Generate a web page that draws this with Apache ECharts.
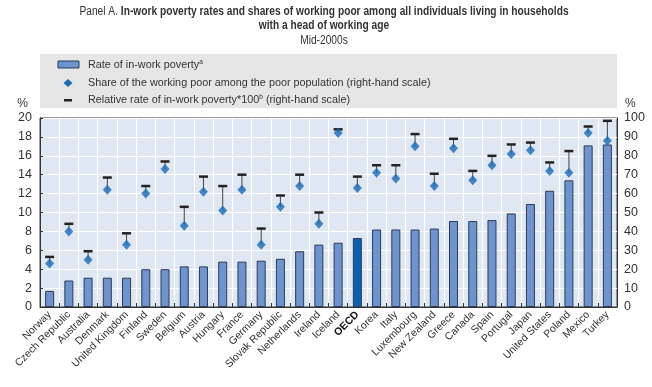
<!DOCTYPE html>
<html><head><meta charset="utf-8">
<script src="https://cdn.jsdelivr.net/npm/echarts@6/dist/echarts.min.js"></script>
<style>html,body{margin:0;padding:0;background:#fff}#c{width:652px;height:387px}</style>
</head><body><div id="c"></div>
<script>
var categories = ["Norway","Czech Republic","Australia","Denmark","United Kingdom","Finland","Sweden","Belgium","Austria","Hungary","France","Germany","Slovak Republic","Netherlands","Ireland","Iceland","OECD","Korea","Italy","Luxembourg","New Zealand","Greece","Canada","Spain","Portugal","Japan","United States","Poland","Mexico","Turkey"];
var rate = [1.7,2.8,3.1,3.1,3.1,4.0,4.0,4.3,4.3,4.8,4.8,4.9,5.1,5.9,6.6,6.8,7.3,8.2,8.2,8.2,8.3,9.1,9.1,9.2,9.9,10.9,12.3,13.4,17.1,17.2];
var share = [23,40,25,62,33,60,73,43,61,51,62,33,53,64,44,92,63,71,68,85,64,84,67,75,81,83,72,71,92,88];
var relative = [26.5,44,29.5,68.5,39,64,77,53,69,64,70,41.5,59,70,50,94,69,75,75,91.5,70.5,89,72,80,86,87,76.5,82.5,95.5,98.5];
var leftTicks = [0,20,2];
var rightTicks = [0,100,10];

var FONT = "'Liberation Sans','Arial',sans-serif";
var BAR = '#6f93cc', BAR_EDGE = '#2b3b58', OECD_C = '#0a62ae', DIA = '#1a6cb5', CAP = '#222';

var chart = echarts.init(document.getElementById('c'));
var barData = rate.map(function(v,i){
  if (categories[i]==='OECD') return {value:v, itemStyle:{color:OECD_C}};
  return v;
});
var errData = share.map(function(v,i){ return [i, v, relative[i]]; });
var sup = {s:{fontSize:7, fill:'#333', verticalAlign:'top', fontFamily:FONT}};

chart.setOption({
  animation:false,
  textStyle:{fontFamily:FONT},
  graphic:[
    {type:'text', x:324, y:4, scaleX:0.85, silent:true,
      style:{text:'{n|Panel A. }{b|In-work poverty rates and shares of working poor among all individuals living in households}\n{b|with a head of working age}\n{n|Mid-2000s}',
        align:'center', verticalAlign:'top', fill:'#333', font:'12px '+FONT,
        rich:{
          n:{fontFamily:FONT, fontSize:12, fontWeight:'normal', fill:'#333', lineHeight:14.5},
          b:{fontFamily:FONT, fontSize:12, fontWeight:'bold', fill:'#333', lineHeight:14.5}
        }}},
    {type:'rect', shape:{x:40,y:54,width:577,height:54}, style:{fill:'#e6e6e6'}, silent:true},
    {type:'rect', shape:{x:58,y:61,width:21,height:7}, style:{fill:BAR, stroke:BAR_EDGE, lineWidth:1}},
    {type:'polygon', shape:{points:[[68,79],[72.5,83],[68,87],[63.5,83]]}, style:{fill:DIA}},
    {type:'rect', shape:{x:64,y:99,width:8,height:2.5}, style:{fill:CAP}},
    {type:'text', x:88, y:64.5, scaleX:0.94, style:{text:'Rate of in-work poverty{s|a}', fill:'#333', font:'11.5px '+FONT, verticalAlign:'middle', rich:sup}},
    {type:'text', x:88, y:82.5, scaleX:0.94, style:{text:'Share of the working poor among the poor population (right-hand scale)', fill:'#333', font:'11.5px '+FONT, verticalAlign:'middle'}},
    {type:'text', x:88, y:100, scaleX:0.94, style:{text:'Relative rate of in-work poverty*100{s|b} (right-hand scale)', fill:'#333', font:'11.5px '+FONT, verticalAlign:'middle', rich:sup}}
  ],
  grid:{left:40, right:35, top:118, bottom:80, show:true, backgroundColor:'#dfe7f2', borderColor:'#333', borderWidth:1},
  xAxis:{
    type:'category', data:categories, boundaryGap:true,
    axisLine:{lineStyle:{color:'#333', width:1}},
    axisTick:{show:true, inside:true, length:4, interval:0, lineStyle:{color:'#333'}},
    splitLine:{show:true, interval:0, lineStyle:{color:'#fff', width:1.2}},
    axisLabel:{interval:0, rotate:45, fontSize:10.5, color:'#333', margin:6, fontFamily:FONT,
      formatter:function(v){ return v==='OECD' ? '{b|'+v+'}' : v; },
      rich:{b:{fontWeight:'bold', fontSize:10.5, color:'#111', fontFamily:FONT}}}
  },
  yAxis:[
    {type:'value', min:leftTicks[0], max:leftTicks[1], interval:leftTicks[2], position:'left',
      name:'%', nameLocation:'end', nameGap:8, nameTextStyle:{fontSize:12, color:'#333', align:'right', padding:[0,12,0,0], fontFamily:FONT},
      axisLine:{show:true, lineStyle:{color:'#333'}}, axisTick:{show:true, inside:true, length:3, lineStyle:{color:'#333'}},
      splitLine:{show:true, lineStyle:{color:'#fff', width:1.2}},
      axisLabel:{fontSize:12.5, color:'#333', margin:8, fontFamily:FONT}},
    {type:'value', min:rightTicks[0], max:rightTicks[1], interval:rightTicks[2], position:'right',
      name:'%', nameLocation:'end', nameGap:8, nameTextStyle:{fontSize:12, color:'#333', align:'left', padding:[0,0,0,8], fontFamily:FONT},
      axisLine:{show:true, lineStyle:{color:'#333'}}, axisTick:{show:false},
      splitLine:{show:false},
      axisLabel:{fontSize:12.5, color:'#333', margin:7, fontFamily:FONT}}
  ],
  series:[
    {type:'bar', name:'Rate of in-work poverty', data:barData, barWidth:9, yAxisIndex:0,
      itemStyle:{color:BAR, borderColor:BAR_EDGE, borderWidth:1}, z:2},
    {type:'custom', name:'Relative rate of in-work poverty*100', yAxisIndex:1, data:errData, z:3,
      renderItem:function(params, api){
        var lo = api.coord([api.value(0), api.value(1)]);
        var hi = api.coord([api.value(0), api.value(2)]);
        return {type:'group', children:[
          {type:'line', shape:{x1:lo[0], y1:lo[1], x2:hi[0], y2:hi[1]}, style:{stroke:'#444', lineWidth:1}},
          {type:'line', shape:{x1:hi[0]-4.5, y1:hi[1], x2:hi[0]+4.5, y2:hi[1]}, style:{stroke:CAP, lineWidth:2.5}}
        ]};
      }},
    {type:'scatter', name:'Share of the working poor', yAxisIndex:1, data:share, symbol:'diamond', symbolSize:[9,10],
      itemStyle:{color:DIA}, z:4}
  ]
});
</script></body></html>
